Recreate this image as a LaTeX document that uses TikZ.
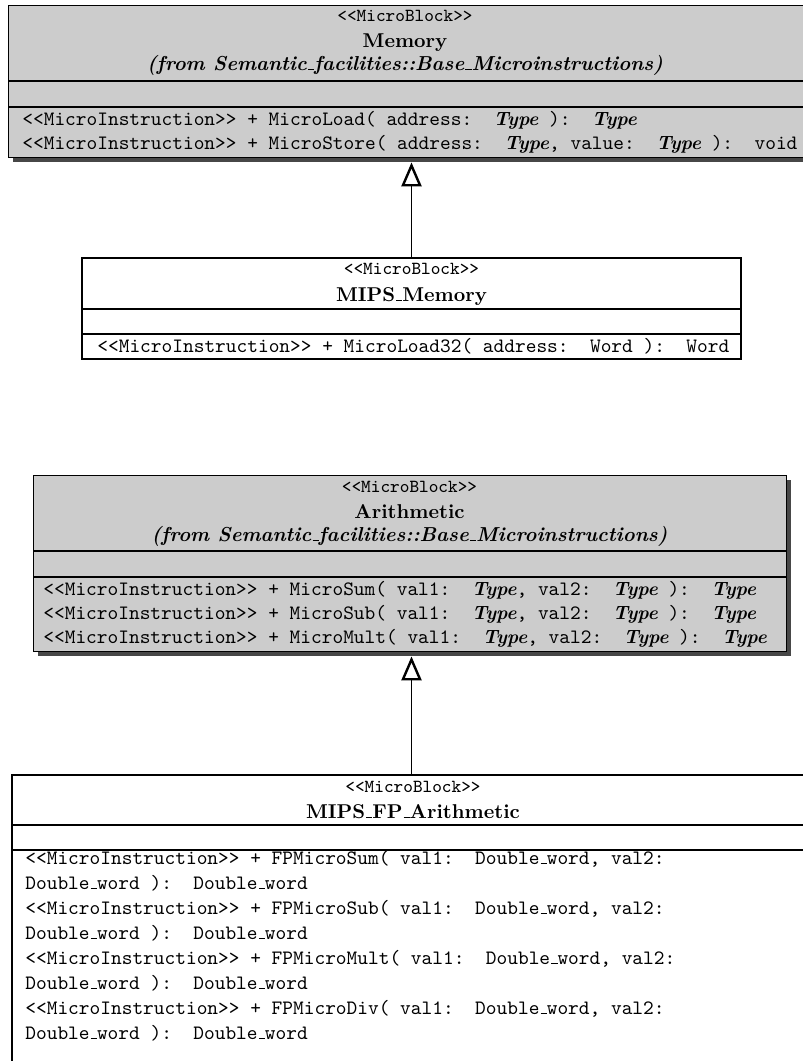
\documentclass[tikz,border=0pt]{standalone}
\usetikzlibrary{arrows.meta,fit}
\definecolor{boxgray}{gray}{0.8}
\definecolor{shadowgray}{gray}{0.28}
\newcommand{\ty}[1]{{\fontsize{9.6}{12}\selectfont\rmfamily\bfseries\itshape #1}}
\newcommand{\us}{\leavevmode\kern.06em\vbox{\hrule width.3em height 0.5pt}}
\begin{document}
\begin{tikzpicture}[x=0.5pt,y=-0.5pt,
  ops/.style={anchor=base west, inner sep=0pt, font=\fontsize{10.2}{12}\selectfont\ttfamily},
  stereo/.style={anchor=base, inner sep=0pt, font=\fontsize{9.2}{10}\selectfont\ttfamily},
  ttl/.style={anchor=base, inner sep=0pt, font=\fontsize{10}{12}\selectfont\rmfamily\bfseries},
  frm/.style={anchor=base, inner sep=0pt, font=\fontsize{10.1}{12}\selectfont\rmfamily\bfseries\itshape},
  grayclass/.style={draw, fill=boxgray, line width=0.5pt, inner sep=0pt},
  whiteclass/.style={draw, fill=white, line width=1.3pt, inner sep=0pt},
  shadowbox/.style={fill=shadowgray, inner sep=0pt},
  gsep/.style={line width=1pt},
  wsep/.style={line width=0.7pt},
  thsep/.style={line width=1.3pt},
  gen/.style={line width=0.7pt, -{Triangle[open, length=12pt, width=10pt, line width=1.2pt]}},
]
\path[use as bounding box, clip] (0,0) rectangle (803,1061);

% ---------- Memory ----------
\node[shadowbox, fit={(13,10) (810,162)}] (memsh) {};
\node[grayclass, fit={(8,5) (805,157)}] (mem) {};
\draw[gsep] (8,81) -- (805,81);
\draw[gsep] (8,107) -- (805,107);
\node[stereo] (memst) at (405,21) {<<MicroBlock>>};
\node[ttl] (memt) at (405,47) {Memory};
\node[frm] (memf) at (405,70) {(from Semantic\us facilities::Base\us Microinstructions)};
\node[ops] (memo1) at (22,125) {<<MicroInstruction>> + MicroLoad( address:\ \ \ty{Type}\ ):\ \ \ty{Type}};
\node[ops] (memo2) at (22,149) {<<MicroInstruction>> + MicroStore( address:\ \ \ty{Type}, value:\ \ \ty{Type}\ ):\ \ void};

% ---------- MIPS_Memory ----------
\node[whiteclass, fit={(82,258) (741,359)}] (mmem) {};
\draw[wsep] (82,309) -- (741,309);
\draw[wsep] (82,334) -- (741,334);
\node[stereo] (mmemst) at (411.5,274) {<<MicroBlock>>};
\node[ttl] (mmemt) at (411.5,301) {MIPS\us Memory};
\node[ops] (mmemo1) at (97,352) {<<MicroInstruction>> + MicroLoad32( address:\ \ Word\ ):\ \ Word};

\draw[gen] (mmem.north) -- (memsh.south -| mmem.north);

% ---------- Arithmetic ----------
\node[shadowbox, fit={(38,480) (791,656)}] (arsh) {};
\node[grayclass, fit={(33,475) (786,651)}] (ar) {};
\draw[gsep] (33,551) -- (786,551);
\draw[gsep] (33,577) -- (786,577);
\node[stereo] (arst) at (409.5,492) {<<MicroBlock>>};
\node[ttl] (art) at (409.5,518) {Arithmetic};
\node[frm] (arf) at (409.5,541) {(from Semantic\us facilities::Base\us Microinstructions)};
\node[ops] (aro1) at (43,595) {<<MicroInstruction>> + MicroSum( val1:\ \ \ty{Type}, val2:\ \ \ty{Type}\ ):\ \ \ty{Type}};
\node[ops] (aro2) at (43,619) {<<MicroInstruction>> + MicroSub( val1:\ \ \ty{Type}, val2:\ \ \ty{Type}\ ):\ \ \ty{Type}};
\node[ops] (aro3) at (43,643) {<<MicroInstruction>> + MicroMult( val1:\ \ \ty{Type}, val2:\ \ \ty{Type}\ ):\ \ \ty{Type}};

% ---------- MIPS_FP_Arithmetic ----------
\node[whiteclass, fit={(12,775) (811,1090)}] (fp) {};
\draw[thsep] (12,825) -- (811,825);
\draw[wsep] (12,850) -- (811,850);
\node[stereo] (fpst) at (413,792) {<<MicroBlock>>};
\node[ttl] (fpt) at (413,818) {MIPS\us FP\us Arithmetic};
\node[ops] (fpo1) at (25,864) {<<MicroInstruction>> + FPMicroSum( val1:\ \ Double\us word, val2:};
\node[ops] (fpo2) at (25,889) {Double\us word ):\ \ Double\us word};
\node[ops] (fpo3) at (25,914) {<<MicroInstruction>> + FPMicroSub( val1:\ \ Double\us word, val2:};
\node[ops] (fpo4) at (25,939) {Double\us word ):\ \ Double\us word};
\node[ops] (fpo5) at (25,964) {<<MicroInstruction>> + FPMicroMult( val1:\ \ Double\us word, val2:};
\node[ops] (fpo6) at (25,989) {Double\us word ):\ \ Double\us word};
\node[ops] (fpo7) at (25,1014) {<<MicroInstruction>> + FPMicroDiv( val1:\ \ Double\us word, val2:};
\node[ops] (fpo8) at (25,1039) {Double\us word ):\ \ Double\us word};

\draw[gen] (fp.north) -- (arsh.south -| fp.north);
\end{tikzpicture}
\end{document}
